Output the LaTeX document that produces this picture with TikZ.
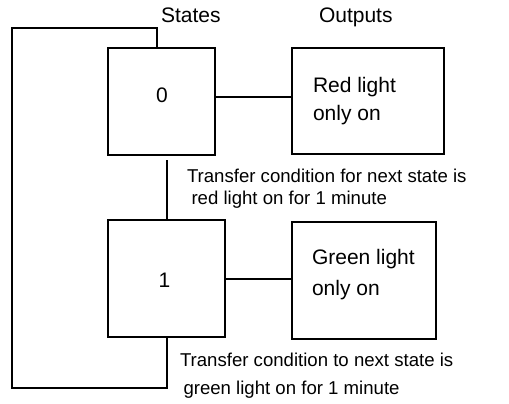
\documentclass[tikz,border=0pt]{standalone}
\usepackage{fontspec}
\setmainfont{Liberation Sans}
\usetikzlibrary{calc}

\begin{document}
\begin{tikzpicture}[
    x=0.5pt, y=-0.5pt,
    line width=1pt,
    statebox/.style={rectangle, draw=black, line width=1pt, inner sep=0pt},
    outbox/.style={rectangle, draw=black, line width=1pt, inner sep=0pt},
    lbl/.style={inner sep=0pt, anchor=base west, font=\fontsize{10.5}{12}\selectfont},
    note/.style={inner sep=0pt, anchor=base west, font=\fontsize{9.3}{11}\selectfont},
  ]
    \useasboundingbox (0,0) rectangle (509,403);

    % ─── headings ───
    \node[lbl] (hstates) at (160, 22) {States};
    \node[lbl] (houts) at (318, 22) {Outputs};

    % ─── state boxes ───
    \node[statebox, minimum width=53.5pt, minimum height=53.5pt] (s0) at (161.5, 101.5) {};
    \node[lbl, anchor=base] (n0) at (162, 102) {0};
    \node[statebox, minimum width=58.5pt, minimum height=58.5pt] (s1) at (166.5, 278.5) {};
    \node[lbl, anchor=base] (n1) at (164.5, 287) {1};

    % ─── output boxes ───
    \node[outbox, minimum width=76pt, minimum height=53pt] (red) at (368, 101) {};
    \node[lbl] (red1) at (312, 92) {Red light};
    \node[lbl] (red2) at (312, 120) {only on};
    \node[outbox, minimum width=72pt, minimum height=58.5pt] (green) at (364, 280.5) {};
    \node[lbl] (green1) at (311, 264) {Green light};
    \node[lbl] (green2) at (311, 295) {only on};

    % ─── transfer conditions ───
    \node[note] (t0a) at (186, 182) {Transfer condition for next state is};
    \node[note] (t0b) at (190.5, 204) {red light on for 1 minute};
    \node[note] (t1a) at (179, 366) {Transfer condition to next state is};
    \node[note] (t1b) at (182.5, 394) {green light on for 1 minute};

    % ─── connectors ───
    \draw ($(s0.east)+(0,-4.5)$) -- ($(s0.east -| red.west)+(0,-4.5)$);
    \draw (s1.east) -- (s1.east -| green.west);
    \draw (s1.north) -- ($(s1.north |- s0.south)+(0,4)$);

    % ─── feedback loop ───
    \coordinate (loopbot) at (12, 388);
    \coordinate (looptop) at (12, 28);
    \draw (s1.south) |- (loopbot) -- (looptop) -| ($(s0.north)+(-4.5,0)$);
  \end{tikzpicture}
\end{document}
